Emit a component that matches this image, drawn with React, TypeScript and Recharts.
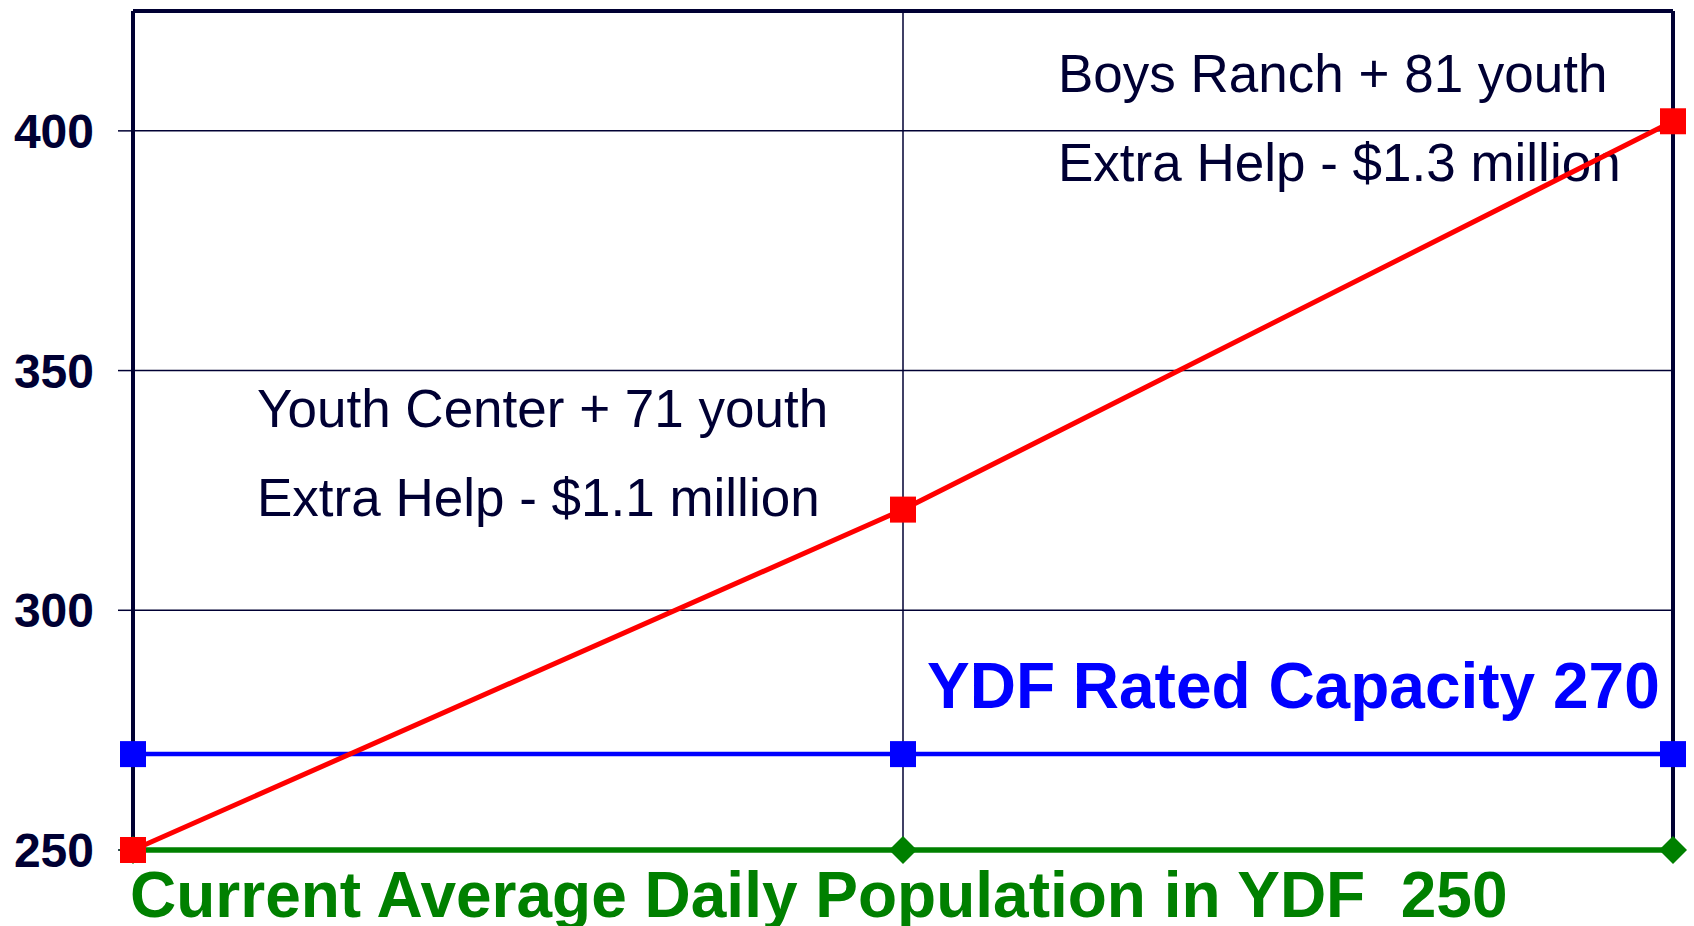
import React from 'react';
import { LineChart, Line, XAxis, YAxis, CartesianGrid, ReferenceLine, Customized } from 'recharts';

const categories = ['Current', 'Youth Center', 'Boys Ranch'];
const projectedPopulation = [250, 321, 402];
const ratedCapacity = [270, 270, 270];
const currentPopulation = [250, 250, 250];
const yTicks = [250, 300, 350, 400];
const yDomain = [250, 425];

const data = categories.map((c, i) => ({
  cat: c,
  projected: projectedPopulation[i],
  capacity: ratedCapacity[i],
  current: currentPopulation[i],
}));

const NAVY = '#000033';
const FONT = '"Liberation Sans", Arial, Helvetica, sans-serif';

const SquareDot = (color: string, size: number) => (props: any) => {
  const { cx, cy, index } = props;
  if (cx == null || cy == null) return <g key={`s-${index}`} />;
  return <rect key={`s-${color}-${index}`} x={cx - size / 2} y={cy - size / 2} width={size} height={size} fill={color} />;
};

const DiamondDot = (color: string, r: number) => (props: any) => {
  const { cx, cy, index } = props;
  if (cx == null || cy == null) return <g key={`d-${index}`} />;
  return (
    <polygon
      key={`d-${color}-${index}`}
      points={`${cx},${cy - r} ${cx + r},${cy} ${cx},${cy + r} ${cx - r},${cy}`}
      fill={color}
    />
  );
};

const YTick = (props: any) => {
  const { x, y, payload } = props;
  return (
    <text x={x} y={y} dy={17} textAnchor="end" fill={NAVY} fontFamily={FONT} fontWeight="bold" fontSize={48}>
      {payload.value}
    </text>
  );
};

const Annotations = () => (
  <g fontFamily={FONT}>
    <text x={1058} y={92} fontSize={53} fill={NAVY}>Boys Ranch + 81 youth</text>
    <text x={1058} y={181} fontSize={53} fill={NAVY}>Extra Help - $1.3 million</text>
    <text x={257} y={427} fontSize={53} fill={NAVY}>Youth Center + 71 youth</text>
    <text x={257} y={516} fontSize={53} fill={NAVY}>Extra Help - $1.1 million</text>
    <text x={927} y={708} fontSize={64} fontWeight="bold" fill="#0000FF">YDF Rated Capacity 270</text>
    <text x={130} y={917} fontSize={64} fontWeight="bold" fill="#008000" style={{ whiteSpace: 'pre' }}>
      Current Average Daily Population in YDF{'\u00A0\u00A0'}250
    </text>
  </g>
);

export default function App() {
  return (
    <div style={{ position: 'absolute', left: 0, top: 0, width: 1694, height: 926, overflow: 'hidden', background: '#fff' }}>
      <LineChart width={1694} height={926} data={data} margin={{ top: 11, right: 21, left: 0, bottom: 76 }}>
        <CartesianGrid stroke={NAVY} strokeWidth={1.5} horizontal vertical />
        <XAxis dataKey="cat" hide padding={{ left: 0, right: 0 }} />
        <YAxis
          width={133}
          domain={yDomain}
          ticks={yTicks}
          interval={0}
          tickSize={15}
          tickMargin={24}
          tick={<YTick />}
          axisLine={{ stroke: NAVY, strokeWidth: 4 }}
          tickLine={{ stroke: NAVY, strokeWidth: 1.5 }}
        />
        <ReferenceLine y={425} stroke={NAVY} strokeWidth={4} />
        <ReferenceLine x="Boys Ranch" stroke={NAVY} strokeWidth={4} />
        <Line
          dataKey="current"
          stroke="#008000"
          strokeWidth={5.5}
          dot={DiamondDot('#008000', 14)}
          isAnimationActive={false}
        />
        <Line
          dataKey="capacity"
          stroke="#0000FF"
          strokeWidth={4.5}
          dot={SquareDot('#0000FF', 26)}
          isAnimationActive={false}
        />
        <Line
          dataKey="projected"
          stroke="#FF0000"
          strokeWidth={5}
          dot={SquareDot('#FF0000', 26)}
          isAnimationActive={false}
        />
        <Customized component={<Annotations />} />
      </LineChart>
    </div>
  );
}
